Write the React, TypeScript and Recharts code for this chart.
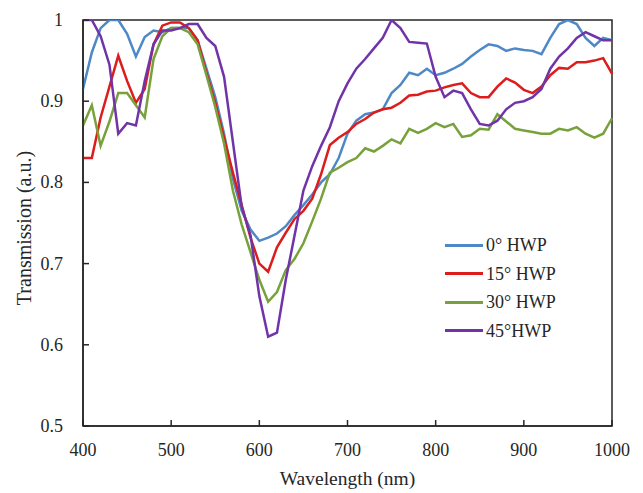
import React from 'react';
import { LineChart, Line, XAxis, YAxis, ReferenceArea } from 'recharts';

const wavelengths = [
  400, 410, 420, 430, 440, 450, 460, 470, 480, 490,
  500, 510, 520, 530, 540, 550, 560, 570, 580, 590,
  600, 610, 620, 630, 640, 650, 660, 670, 680, 690,
  700, 710, 720, 730, 740, 750, 760, 770, 780, 790,
  800, 810, 820, 830, 840, 850, 860, 870, 880, 890,
  900, 910, 920, 930, 940, 950, 960, 970, 980, 990, 1000,
];

const hwp0 = [
  0.915, 0.96, 0.99, 1.0, 1.0, 0.983, 0.955, 0.979, 0.987, 0.985,
  0.99, 0.99, 0.99, 0.975, 0.94, 0.905, 0.86, 0.805, 0.765, 0.742,
  0.728, 0.732, 0.737, 0.746, 0.76, 0.772, 0.785, 0.8, 0.81, 0.83,
  0.86, 0.876, 0.884, 0.886, 0.89, 0.91, 0.92, 0.935, 0.932, 0.94,
  0.932, 0.935, 0.94, 0.946, 0.955, 0.963, 0.97, 0.968, 0.962, 0.965,
  0.963, 0.962, 0.958, 0.978, 0.995, 1.0, 0.995, 0.978, 0.968, 0.978, 0.975,
];

const hwp15 = [
  0.83, 0.83, 0.88, 0.918, 0.956, 0.925, 0.898, 0.915, 0.97, 0.993,
  0.997, 0.997, 0.99, 0.975, 0.935, 0.898, 0.855, 0.812, 0.772, 0.732,
  0.7, 0.69, 0.72, 0.738, 0.755, 0.765, 0.78, 0.81, 0.846, 0.855,
  0.862, 0.872, 0.878, 0.886, 0.89, 0.892, 0.898, 0.907, 0.908, 0.912,
  0.913, 0.917, 0.92, 0.922, 0.91, 0.905, 0.905, 0.918, 0.928, 0.923,
  0.914, 0.91, 0.918, 0.932, 0.941, 0.94, 0.948, 0.948, 0.95, 0.953, 0.934,
];

const hwp30 = [
  0.87, 0.895, 0.845, 0.875, 0.91, 0.91, 0.895, 0.88, 0.952, 0.98,
  0.99, 0.99, 0.985, 0.97, 0.932, 0.893, 0.848, 0.79, 0.748, 0.714,
  0.68, 0.653, 0.665, 0.692, 0.706, 0.725, 0.752, 0.78, 0.812, 0.818,
  0.825, 0.83, 0.842, 0.838, 0.845, 0.853, 0.848, 0.866, 0.861, 0.866,
  0.873, 0.868, 0.872, 0.856, 0.858, 0.866, 0.865, 0.884, 0.875, 0.866,
  0.864, 0.862, 0.86, 0.86, 0.866, 0.864, 0.868, 0.86, 0.855, 0.86, 0.879,
];

const hwp45 = [
  1.0, 1.0, 0.98, 0.945, 0.86, 0.873, 0.87, 0.925, 0.97, 0.987,
  0.987, 0.99, 0.995, 0.995, 0.978, 0.968, 0.93, 0.85, 0.77, 0.735,
  0.66, 0.61, 0.615, 0.68, 0.735, 0.79, 0.82, 0.845, 0.868, 0.9,
  0.922, 0.94, 0.952, 0.965, 0.978, 1.0, 0.99, 0.973, 0.972, 0.971,
  0.93, 0.905, 0.913, 0.91, 0.89, 0.872, 0.87, 0.876, 0.89, 0.898,
  0.9, 0.905, 0.915, 0.94, 0.955, 0.965, 0.978, 0.985, 0.98, 0.975, 0.975,
];

const xTicks = [400, 500, 600, 700, 800, 900, 1000];
const yTicks = [0.5, 0.6, 0.7, 0.8, 0.9, 1];

const seriesNames = ['0° HWP', '15° HWP', '30° HWP', '45°HWP'];
const seriesColors = ['#4f88c6', '#dd1c1c', '#77a13b', '#7133a8'];

const data = wavelengths.map((w, i) => ({
  w,
  s0: hwp0[i],
  s15: hwp15[i],
  s30: hwp30[i],
  s45: hwp45[i],
}));

const FONT = '"Liberation Serif", "Times New Roman", serif';
const AXIS_COLOR = '#262626';
const TEXT_COLOR = '#262626';

const XTick = (props: any) => {
  const { x, y, payload } = props;
  return (
    <g>
      <line x1={x} y1={y} x2={x} y2={y - 6} stroke={AXIS_COLOR} strokeWidth={1.5} />
      <text x={x} y={y + 24} textAnchor="middle" dominantBaseline="central" fontFamily={FONT} fontSize={18} fill={TEXT_COLOR}>
        {payload.value}
      </text>
    </g>
  );
};

const YTick = (props: any) => {
  const { x, y, payload } = props;
  const v = payload.value;
  const label = v === 1 ? '1' : Number(v).toFixed(1);
  return (
    <g>
      <line x1={x} y1={y} x2={x + 6} y2={y} stroke={AXIS_COLOR} strokeWidth={1.5} />
      <text x={x - 20} y={y} textAnchor="end" dominantBaseline="central" fontFamily={FONT} fontSize={18} fill={TEXT_COLOR}>
        {label}
      </text>
    </g>
  );
};

export default function App() {
  const keys = ['s0', 's15', 's30', 's45'];
  return (
    <div style={{ position: 'absolute', left: 0, top: 0, width: 643, height: 493, background: '#fff' }}>
      <LineChart width={643} height={493} data={data} margin={{ top: 20, right: 31, left: 23, bottom: 17 }}>
        <XAxis
          dataKey="w"
          type="number"
          domain={[400, 1000]}
          ticks={xTicks}
          tickSize={0}
          tickMargin={0}
          tickLine={false}
          tick={<XTick />}
          height={50}
          stroke={AXIS_COLOR}
          strokeWidth={1.5}
          label={{
            content: (p: any) => {
              const vb = p.viewBox;
              return (
                <text x={vb.x + vb.width / 2} y={vb.y + 52} textAnchor="middle" dominantBaseline="central" fontFamily={FONT} fontSize={19.5} fill={TEXT_COLOR}>
                  Wavelength (nm)
                </text>
              );
            },
          }}
        />
        <YAxis
          type="number"
          domain={[0.5, 1]}
          ticks={yTicks}
          allowDataOverflow
          tickSize={0}
          tickMargin={0}
          tickLine={false}
          tick={<YTick />}
          width={60}
          stroke={AXIS_COLOR}
          strokeWidth={1.5}
          label={{
            content: (p: any) => {
              const vb = p.viewBox;
              const cx = vb.x + 1;
              const cy = vb.y + vb.height / 2 + 5;
              return (
                <text x={cx} y={cy} transform={`rotate(-90 ${cx} ${cy})`} textAnchor="middle" dominantBaseline="central" fontFamily={FONT} fontSize={20} fill={TEXT_COLOR}>
                  Transmission (a.u.)
                </text>
              );
            },
          }}
        />
        <ReferenceArea x1={400} x2={1000} y1={0.5} y2={1} fill="none" fillOpacity={0} stroke={AXIS_COLOR} strokeWidth={1.5} ifOverflow="visible" />
        {keys.map((k, i) => (
          <Line
            key={k}
            dataKey={k}
            name={seriesNames[i]}
            stroke={seriesColors[i]}
            strokeWidth={2.5}
            dot={false}
            type="linear"
            isAnimationActive={false}
          />
        ))}
      </LineChart>
      <div style={{ position: 'absolute', left: 445, top: 231, fontFamily: FONT, fontSize: 18, color: TEXT_COLOR, lineHeight: '28.5px' }}>
        {seriesNames.map((n, i) => (
          <div key={n} style={{ display: 'flex', alignItems: 'center', height: 28.5, whiteSpace: 'nowrap' }}>
            <span style={{ display: 'inline-block', width: 38, height: 3, background: seriesColors[i], marginRight: 3 }} />
            <span>{n}</span>
          </div>
        ))}
      </div>
    </div>
  );
}
